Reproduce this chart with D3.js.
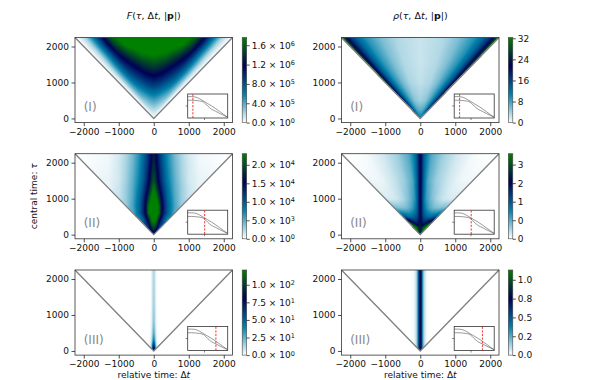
<!DOCTYPE html>
<html>
<head>
<meta charset="utf-8">
<script src="https://cdn.jsdelivr.net/npm/d3@7"></script>
<style>
  body { margin: 0; background: #fff; }
  svg { display: block; font-family: "DejaVu Sans", sans-serif; }
</style>
</head>
<body>
<div id="chart"></div>
<script>
/********************************************************
 ********************* data *****************************
 ********************************************************/
var dtTicks = [-2000, -1000, 0, 1000, 2000];
var tauTicks = [0, 1000, 2000];
var tauTop = 2250, tauBottom = -115;
var panelNames = ["(I)", "(II)", "(III)"];

// inset: two curves over |p| (0..1) and the red marker per row
var insetP     = [0, 0.1, 0.2, 0.3, 0.4, 0.5, 0.6, 0.7, 0.8, 0.9, 1.0];
var insetUpper = [0.89, 0.89, 0.87, 0.80, 0.70, 0.60, 0.50, 0.39, 0.27, 0.15, 0.03];
var insetLower = [0.74, 0.74, 0.73, 0.71, 0.66, 0.50, 0.36, 0.28, 0.19, 0.11, 0.03];
var markerLeft  = [0.13, 0.425, 0.705];
var markerRight = [0.135, 0.425, 0.705];

// colour bars: top of bar and tick values
var fMax   = [1.76e6, 2.3e4, 121];
var fTicks = [[0, 4e5, 8e5, 1.2e6, 1.6e6], [0, 5e3, 1e4, 1.5e4, 2e4], [0, 25, 50, 75, 100]];
var rhoMax   = [32.3, 3.67, 1.13];
var rhoTicks = [[0, 8, 16, 24, 32], [0, 0.8, 1.6, 2.4, 3.2], [0, 0.25, 0.5, 0.75, 1]];
var rhoLabels = [["0", "8", "16", "24", "32"], ["0", "0", "1", "2", "3"], ["0.0", "0.2", "0.5", "0.8", "1.0"]];

// colour level (share of colour-bar top), rows = tau
// F (I): columns are |dt| / tau
var fOneCols = [0, 0.2, 0.4, 0.55, 0.65, 0.75, 0.87, 0.95, 1.0];
var fOneRows = [0, 250, 500, 750, 1000, 1250, 1500, 1750, 2000, 2250];
var fOneLevel = [
  [0, 0, 0, 0, 0, 0, 0, 0, 0],
  [0.10, 0.09, 0.08, 0.06, 0.05, 0.03, 0.01, 0, 0],
  [0.24, 0.22, 0.18, 0.15, 0.12, 0.08, 0.03, 0.01, 0],
  [0.40, 0.37, 0.31, 0.26, 0.21, 0.14, 0.05, 0.02, 0],
  [0.56, 0.52, 0.44, 0.37, 0.30, 0.20, 0.07, 0.02, 0],
  [0.71, 0.66, 0.56, 0.47, 0.38, 0.26, 0.09, 0.03, 0],
  [0.86, 0.80, 0.68, 0.57, 0.45, 0.30, 0.10, 0.03, 0],
  [1.00, 0.95, 0.82, 0.68, 0.52, 0.33, 0.10, 0.03, 0],
  [1.12, 1.08, 0.98, 0.80, 0.60, 0.37, 0.11, 0.03, 0],
  [1.20, 1.18, 1.10, 0.90, 0.66, 0.40, 0.11, 0.03, 0]
];
// F (II): columns are |dt|
var fTwoCols = [0, 50, 100, 150, 200, 300, 400, 600, 800, 1000, 1300, 2250];
var fTwoRows = [0, 100, 250, 400, 600, 800, 1000, 1250, 1500, 2000, 2250];
var fTwoLevel = [
  [0.55, 0.55, 0.55, 0.55, 0.55, 0.55, 0.55, 0.55, 0.55, 0.55, 0.55, 0.55],
  [0.75, 0.68, 0.55, 0.50, 0.50, 0.50, 0.50, 0.50, 0.50, 0.50, 0.50, 0.50],
  [0.90, 0.86, 0.72, 0.58, 0.48, 0.42, 0.42, 0.42, 0.42, 0.42, 0.42, 0.42],
  [1.05, 1.00, 0.88, 0.72, 0.60, 0.42, 0.30, 0.30, 0.30, 0.30, 0.30, 0.30],
  [1.15, 1.10, 1.02, 0.96, 0.78, 0.56, 0.42, 0.22, 0.20, 0.20, 0.20, 0.20],
  [1.15, 1.10, 1.02, 0.96, 0.78, 0.56, 0.42, 0.24, 0.13, 0.13, 0.13, 0.13],
  [1.10, 1.05, 0.96, 0.85, 0.72, 0.53, 0.40, 0.23, 0.13, 0.07, 0.07, 0.07],
  [1.00, 0.93, 0.82, 0.72, 0.62, 0.48, 0.37, 0.22, 0.13, 0.07, 0.03, 0.03],
  [0.88, 0.82, 0.72, 0.64, 0.56, 0.44, 0.34, 0.21, 0.12, 0.06, 0.03, 0.01],
  [0.78, 0.72, 0.64, 0.57, 0.50, 0.40, 0.31, 0.19, 0.11, 0.06, 0.02, 0],
  [0.75, 0.70, 0.62, 0.55, 0.48, 0.38, 0.30, 0.18, 0.10, 0.05, 0.02, 0]
];
// F (III): columns are |dt|
var fThreeCols = [0, 25, 50, 75, 100, 150, 2250];
var fThreeRows = [0, 50, 100, 200, 300, 500, 800, 1200, 2250];
var fThreeLevel = [
  [0.70, 0.53, 0.28, 0.11, 0.04, 0, 0],
  [0.78, 0.60, 0.32, 0.12, 0.04, 0, 0],
  [0.70, 0.53, 0.28, 0.11, 0.04, 0, 0],
  [0.50, 0.38, 0.20, 0.08, 0.03, 0, 0],
  [0.34, 0.26, 0.14, 0.05, 0.02, 0, 0],
  [0.22, 0.17, 0.09, 0.03, 0.01, 0, 0],
  [0.16, 0.12, 0.06, 0.02, 0.01, 0, 0],
  [0.13, 0.10, 0.05, 0.02, 0, 0, 0],
  [0.11, 0.08, 0.04, 0.02, 0, 0, 0]
];
// rho (I): columns are |dt| / tau
var rhoOneCols = [0, 0.3, 0.5, 0.7, 0.8, 0.88, 0.94, 0.97, 1.0];
var rhoOneRows = [0, 250, 500, 1000, 1500, 2250];
var rhoOneLevel = [
  [0.35, 0.35, 0.35, 0.35, 0.35, 0.35, 0.35, 0.35, 0.35],
  [0.20, 0.22, 0.27, 0.36, 0.44, 0.52, 0.60, 0.68, 0.75],
  [0.12, 0.15, 0.22, 0.33, 0.42, 0.52, 0.65, 0.75, 0.85],
  [0.08, 0.11, 0.18, 0.30, 0.40, 0.52, 0.67, 0.80, 0.95],
  [0.07, 0.10, 0.17, 0.29, 0.39, 0.52, 0.68, 0.84, 1.00],
  [0.07, 0.10, 0.17, 0.29, 0.39, 0.52, 0.68, 0.85, 1.05]
];
// rho (II): columns are |dt| / tau
var rhoTwoCols = [0, 0.015, 0.04, 0.08, 0.15, 0.3, 0.5, 0.7, 0.85, 0.95, 1.0];
var rhoTwoRows = [0, 100, 200, 300, 500, 750, 1000, 1500, 2250];
var rhoTwoLevel = [
  [0.72, 0.72, 0.72, 0.72, 0.72, 0.72, 0.72, 0.72, 0.72, 0.72, 0.72],
  [0.75, 0.75, 0.74, 0.73, 0.74, 0.80, 0.92, 1.02, 1.05, 0.92, 0.74],
  [0.78, 0.78, 0.76, 0.74, 0.74, 0.80, 0.95, 1.05, 1.08, 0.95, 0.78],
  [0.80, 0.78, 0.74, 0.70, 0.64, 0.62, 0.68, 0.82, 0.94, 0.84, 0.68],
  [0.76, 0.72, 0.66, 0.58, 0.50, 0.42, 0.38, 0.40, 0.44, 0.46, 0.48],
  [0.74, 0.70, 0.62, 0.50, 0.36, 0.25, 0.18, 0.16, 0.17, 0.18, 0.20],
  [0.72, 0.68, 0.56, 0.42, 0.28, 0.18, 0.10, 0.06, 0.05, 0.05, 0.05],
  [0.72, 0.66, 0.50, 0.35, 0.22, 0.13, 0.07, 0.03, 0.02, 0.02, 0.02],
  [0.72, 0.62, 0.45, 0.33, 0.22, 0.12, 0.05, 0.01, 0, 0, 0]
];
// rho (III): columns are |dt|
var rhoThreeCols = [0, 25, 50, 75, 100, 150, 200, 300, 2250];
var rhoThreeRows = [0, 2250];
var rhoThreeLevel = [
  [0.74, 0.64, 0.42, 0.24, 0.12, 0.04, 0.01, 0, 0],
  [0.74, 0.64, 0.42, 0.24, 0.12, 0.04, 0.01, 0, 0]
];

/********************************************************
 ********************* layout ***************************
 ********************************************************/
var W = 598, H = 380;
var columns = [
  { x0: 75, x1: 232.5, cbX: 242.2, marker: markerLeft },
  { x0: 341.5, x1: 499, cbX: 508.3, marker: markerRight }
];
var rowTop = [37.5, 153.7, 270];
var rowH = 85.1;
var cbW = 4.5;

var panels = [
  [ { cols: fOneCols, rows: fOneRows, level: fOneLevel, ratio: true, vmax: fMax[0], ticks: fTicks[0], sci: true },
    { cols: fTwoCols, rows: fTwoRows, level: fTwoLevel, ratio: false, vmax: fMax[1], ticks: fTicks[1], sci: true },
    { cols: fThreeCols, rows: fThreeRows, level: fThreeLevel, ratio: false, vmax: fMax[2], ticks: fTicks[2], sci: true } ],
  [ { cols: rhoOneCols, rows: rhoOneRows, level: rhoOneLevel, ratio: true, vmax: rhoMax[0], ticks: rhoTicks[0], labels: rhoLabels[0] },
    { cols: rhoTwoCols, rows: rhoTwoRows, level: rhoTwoLevel, ratio: true, vmax: rhoMax[1], ticks: rhoTicks[1], labels: rhoLabels[1] },
    { cols: rhoThreeCols, rows: rhoThreeRows, level: rhoThreeLevel, ratio: false, vmax: rhoMax[2], ticks: rhoTicks[2], labels: rhoLabels[2] } ]
];

// matplotlib "ocean_r"
function oceanR(t) {
  var s = 1 - Math.max(0, Math.min(1, t));
  var r = Math.min(1, Math.max(0, 3 * s - 2));
  var g = Math.min(1, Math.abs((3 * s - 1) / 2));
  return d3.rgb(r * 255, g * 255, s * 255).toString();
}
var colour = d3.scaleSequential(oceanR).domain([0, 1]).clamp(true);

var svg = d3.select("#chart").append("svg")
    .attr("width", W)
    .attr("height", H);

// shared gradient for the colour bars
var grad = svg.append("defs").append("linearGradient")
    .attr("id", "cmap")
    .attr("x1", 0).attr("y1", 1).attr("x2", 0).attr("y2", 0);
d3.range(0, 1.0001, 1 / 40).forEach(function(t) {
  grad.append("stop").attr("offset", t).attr("stop-color", colour(t));
});

function lookUp(level, r, c) {
  var r0 = Math.floor(r), c0 = Math.floor(c);
  var r1 = Math.min(r0 + 1, level.length - 1), c1 = Math.min(c0 + 1, level[0].length - 1);
  var fr = r - r0, fc = c - c0;
  var a = level[r0][c0] * (1 - fc) + level[r0][c1] * fc;
  var b = level[r1][c0] * (1 - fc) + level[r1][c1] * fc;
  return a * (1 - fr) + b * fr;
}

function drawHeat(p, x, y, top) {
  var x0 = x.range()[0];
  var w = Math.ceil(x.range()[1] - x0), h = Math.ceil(rowH);
  var canvas = document.createElement("canvas");
  canvas.width = w; canvas.height = h;
  var ctx = canvas.getContext("2d");
  var img = ctx.createImageData(w, h);
  var ci = d3.scaleLinear().domain(p.cols).range(d3.range(p.cols.length)).clamp(true);
  var ri = d3.scaleLinear().domain(p.rows).range(d3.range(p.rows.length)).clamp(true);
  for (var j = 0; j < h; j++) {
    var tau = y.invert(top + j + 0.5);
    for (var i = 0; i < w; i++) {
      var dt = Math.abs(x.invert(x0 + i + 0.5));
      if (tau <= 0 || dt > tau) continue;
      var c = p.ratio ? dt / tau : dt;
      var col = d3.rgb(colour(lookUp(p.level, ri(tau), ci(c))));
      var k = (j * w + i) * 4;
      img.data[k] = col.r; img.data[k + 1] = col.g; img.data[k + 2] = col.b; img.data[k + 3] = 255;
    }
  }
  ctx.putImageData(img, 0, 0);
  svg.append("image")
      .attr("href", canvas.toDataURL())
      .attr("x", x0).attr("y", top)
      .attr("width", w).attr("height", h)
      .attr("preserveAspectRatio", "none");
}

function styleAxis(g) {
  g.select(".domain").remove();
  g.selectAll("line").attr("stroke", "#222").attr("stroke-width", 0.8);
  g.selectAll("text").attr("font-size", "9px").attr("fill", "#111")
      .attr("font-family", "DejaVu Sans, sans-serif");
}

function sciLabel(sel) {
  sel.each(function(d) {
    var e = d === 0 ? 0 : Math.floor(Math.log10(d));
    var m = (d / Math.pow(10, e)).toFixed(1);
    var t = d3.select(this).text("");
    t.append("tspan").text(m + " \u00d7 10");
    t.append("tspan").attr("dy", "-0.45em").attr("font-size", "6.5px").text(e);
  });
}

function drawInset(col, r, x1, bottom) {
  var iw = 40, ih = 24;
  var ix0 = x1 - 4.8 - iw, iy1 = bottom - 4.6;
  var ix = d3.scaleLinear().domain([0, 1]).range([ix0, ix0 + iw]);
  var iy = d3.scaleLinear().domain([0, 1]).range([iy1, iy1 - ih]);
  var g = svg.append("g");
  g.append("rect").attr("x", ix0).attr("y", iy1 - ih).attr("width", iw).attr("height", ih)
      .attr("fill", "#fff").attr("stroke", "#333").attr("stroke-width", 0.8);
  var line = d3.line().x(function(d, i) { return ix(insetP[i]); }).y(function(d) { return iy(d); })
      .curve(d3.curveMonotoneX);
  [insetUpper, insetLower].forEach(function(s) {
    g.append("path").attr("d", line(s)).attr("fill", "none")
        .attr("stroke", "#555").attr("stroke-width", 0.6);
  });
  g.append("line")
      .attr("x1", ix(col.marker[r])).attr("x2", ix(col.marker[r]))
      .attr("y1", iy(0)).attr("y2", iy(1))
      .attr("stroke", "#e8211f").attr("stroke-width", 0.9).attr("stroke-dasharray", "2.2,1.4");
  // small ticks
  g.append("line").attr("x1", ix0 - 2).attr("x2", ix0).attr("y1", iy(0.5)).attr("y2", iy(0.5))
      .attr("stroke", "#333").attr("stroke-width", 0.6);
  g.append("line").attr("x1", ix(0.42)).attr("x2", ix(0.42)).attr("y1", iy1).attr("y2", iy1 + 2)
      .attr("stroke", "#333").attr("stroke-width", 0.6);
}

/********************************************************
 ********************* panels ***************************
 ********************************************************/
columns.forEach(function(col, ci) {
  var x = d3.scaleLinear().domain([-tauTop, tauTop]).range([col.x0, col.x1]);

  rowTop.forEach(function(top, r) {
    var p = panels[ci][r];
    var bottom = top + rowH;
    var y = d3.scaleLinear().domain([tauBottom, tauTop]).range([bottom, top]);

    drawHeat(p, x, y, top);

    // light cone edges
    svg.append("path")
        .attr("d", d3.line()([[x(-tauTop), y(tauTop)], [x(0), y(0)], [x(tauTop), y(tauTop)]]))
        .attr("fill", "none").attr("stroke", "#808080").attr("stroke-width", 1.3);

    svg.append("rect")
        .attr("x", col.x0).attr("y", top).attr("width", col.x1 - col.x0).attr("height", rowH)
        .attr("fill", "none").attr("stroke", "#333").attr("stroke-width", 0.8);

    svg.append("g").attr("transform", "translate(0," + bottom + ")")
        .call(d3.axisBottom(x).tickValues(dtTicks).tickSize(3.5).tickPadding(2.5).tickFormat(d3.format("d")))
        .call(styleAxis);
    svg.append("g").attr("transform", "translate(" + col.x0 + ",0)")
        .call(d3.axisLeft(y).tickValues(tauTicks).tickSize(3.5).tickPadding(2.5).tickFormat(d3.format("d")))
        .call(styleAxis);

    svg.append("text")
        .attr("x", col.x0 + 8.7).attr("y", top + 73.5)
        .attr("font-size", "12px").attr("fill", "#888")
        .text(panelNames[r]);

    drawInset(col, r, col.x1, bottom);

    // colour bar
    var cb = d3.scaleLinear().domain([0, p.vmax]).range([bottom, top]);
    svg.append("rect")
        .attr("x", col.cbX).attr("y", top).attr("width", cbW).attr("height", rowH)
        .attr("fill", "url(#cmap)").attr("stroke", "#444").attr("stroke-width", 0.6);
    var cbAxis = d3.axisRight(cb).tickValues(p.ticks).tickSize(3).tickPadding(2);
    if (p.labels) cbAxis.tickFormat(function(d, i) { return p.labels[i]; });
    var cg = svg.append("g").attr("transform", "translate(" + (col.cbX + cbW) + ",0)")
        .call(cbAxis).call(styleAxis);
    if (p.sci) cg.selectAll(".tick text").call(sciLabel);
  });
});

/********************************************************
 ********************* titles & labels ******************
 ********************************************************/
function mathTitle(cx, sym) {
  var t = svg.append("text").attr("x", cx).attr("y", 19)
      .attr("text-anchor", "middle").attr("font-size", "9.5px").attr("fill", "#111");
  t.append("tspan").attr("font-style", "italic").text(sym);
  t.append("tspan").text("(");
  t.append("tspan").attr("font-style", "italic").text("\u03c4");
  t.append("tspan").text(", \u0394");
  t.append("tspan").attr("font-style", "italic").text("t");
  t.append("tspan").text(", |");
  t.append("tspan").attr("font-weight", "bold").text("p");
  t.append("tspan").text("|)");
}
mathTitle((columns[0].x0 + columns[0].x1) / 2, "F");
mathTitle((columns[1].x0 + columns[1].x1) / 2, "\u03c1");

svg.append("text")
    .attr("transform", "translate(36.5," + (rowTop[1] + rowH / 2) + ") rotate(-90)")
    .attr("text-anchor", "middle").attr("font-size", "9px").attr("fill", "#111")
    .text("central time: ")
  .append("tspan").attr("font-style", "italic").text("\u03c4");

columns.forEach(function(col) {
  var t = svg.append("text")
      .attr("x", (col.x0 + col.x1) / 2).attr("y", 378)
      .attr("text-anchor", "middle").attr("font-size", "9px").attr("fill", "#111")
      .text("relative time: \u0394");
  t.append("tspan").attr("font-style", "italic").text("t");
});
</script>
</body>
</html>
